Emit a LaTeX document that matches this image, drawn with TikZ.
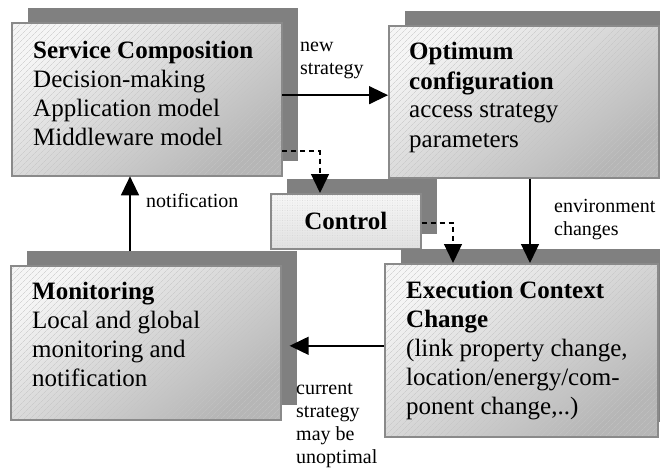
\documentclass[tikz,border=0pt]{standalone}
\usepackage{fontspec}
\setmainfont{Liberation Serif}
\usetikzlibrary{arrows.meta,shadows,patterns.meta}
\definecolor{shadowgray}{HTML}{808080}
\definecolor{boxborder}{HTML}{8A8A8A}
\definecolor{boxlight}{HTML}{F5F5F5}
\definecolor{boxdark}{HTML}{B6B6B6}
\definecolor{hatchcol}{HTML}{C4C4C4}
\begin{document}
\begin{tikzpicture}[x=1pt,y=-1pt,
  panel/.style={rectangle, draw=boxborder, line width=1.6pt, inner sep=0pt, anchor=north west,
    general shadow={fill=shadowgray, shadow xshift=16pt, shadow yshift=15pt},
    preaction={top color=boxlight, bottom color=boxdark, shading angle=35},
    pattern={Lines[angle=45,distance=4pt,line width=0.35pt]}, pattern color=hatchcol},
  ctrlpanel/.style={rectangle, draw=boxborder, line width=1.6pt, inner sep=0pt, anchor=north west,
    general shadow={fill=shadowgray, shadow xshift=16pt, shadow yshift=15pt},
    preaction={top color=gray!6, bottom color=gray!24},
    pattern={Dots[distance=2.5pt,radius=0.35pt]}, pattern color=gray!35},
  boxtext/.style={anchor=base west, align=flush left, text width=262pt, inner sep=0pt,
    font=\fontsize{25}{29}\selectfont},
  lbl/.style={anchor=base west, align=flush left, text width=110pt, inner sep=0pt,
    font=\fontsize{20}{23}\selectfont},
  arr/.style={line width=1.4pt, -{Triangle[length=19pt,width=18pt]}},
  darr/.style={arr, dash pattern=on 5pt off 4pt}
]
\useasboundingbox (0,0) rectangle (660,468);
\fill[white] (0,0) rectangle (660,468);

% boxes
\node[panel, minimum width=270pt, minimum height=153pt] (sc) at (12,23) {};
\node[panel, minimum width=270pt, minimum height=152pt] (opt) at (388,25) {};
\node[ctrlpanel, minimum width=150pt, minimum height=55pt] (ctrl) at (270,193) {};
\node[panel, minimum width=270pt, minimum height=154pt] (mon) at (10,265) {};
\node[panel, minimum width=273pt, minimum height=173pt] (exec) at (384,263) {};

% box texts
\node[boxtext] (sct) at (33,59) {\textbf{Service Composition}\\Decision-making\\Application model\\Middleware model};
\node[boxtext] (optt) at (409,60) {\textbf{Optimum}\\\textbf{configuration}\\access strategy\\parameters};
\node[font=\fontsize{25}{29}\selectfont\bfseries, inner sep=0pt] (ctrlt) at (ctrl.center) {Control};
\node[boxtext] (mont) at (32,299) {\textbf{Monitoring}\\Local and global\\monitoring and\\notification};
\node[boxtext] (exect) at (406,298) {\textbf{Execution Context}\\\textbf{Change}\\(link property change,\\location/energy/com-\\ponent change,..)};

% connectors
\coordinate (a1) at ([yshift=4.5pt]sc.east);
\draw[arr] (a1) -- (a1 -| opt.west);

\coordinate (a2) at ([yshift=-51.5pt]sc.east);
\draw[darr] (a2) -| ([xshift=50pt]ctrl.north west);

\draw[darr] ([yshift=-1.5pt]ctrl.east) -| ([xshift=69pt]exec.north west);

\coordinate (a3) at ([xshift=142pt]opt.south west);
\draw[arr] (a3) -- (a3 |- exec.north);

\coordinate (a4) at ([yshift=4.5pt]exec.west);
\coordinate (a5) at (a4 -| mon.east);
\draw[arr] (a4) -- ([xshift=8pt]a5);

\coordinate (a6) at ([xshift=120pt]mon.north west);
\draw[arr] ([yshift=14pt]a6) -- (a6 |- sc.south);

% connector labels
\node[lbl] (l1) at (300,52) {new\\strategy};
\node[lbl] (l2) at (146,207) {notification};
\node[lbl] (l3) at (554,212) {environment\\changes};
\node[lbl] (l4) at (296,394) {current\\strategy\\may be\\unoptimal};
\end{tikzpicture}
\end{document}
